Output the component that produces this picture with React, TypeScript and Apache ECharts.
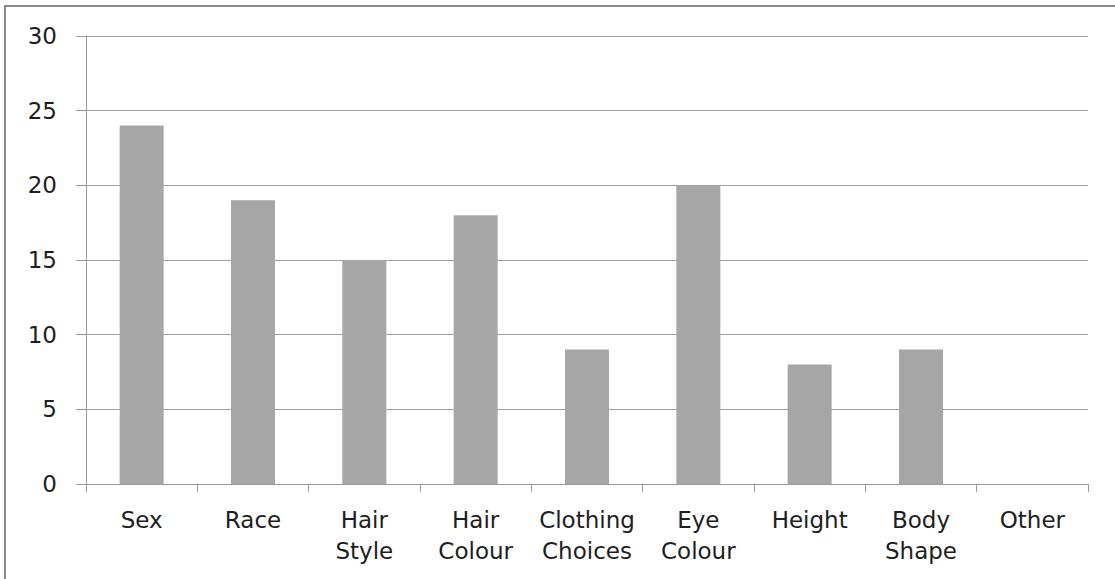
import React, { useEffect, useRef } from "react";
import * as echarts from "echarts";

const categories = [
  "Sex",
  "Race",
  "Hair\nStyle",
  "Hair\nColour",
  "Clothing\nChoices",
  "Eye\nColour",
  "Height",
  "Body\nShape",
  "Other",
];
const values = [24, 19, 15, 18, 9, 20, 8, 9, 0];
const yMin = 0;
const yMax = 30;
const yInterval = 5;

export default function App() {
  const ref = useRef<HTMLDivElement>(null);
  useEffect(() => {
    if (!ref.current) return;
    const chart = echarts.init(ref.current, null, { renderer: "svg" });
    chart.setOption({
      animation: false,
      backgroundColor: "#ffffff",
      textStyle: { fontFamily: "DejaVu Sans" },
      graphic: [
        {
          type: "rect",
          shape: { x: 5, y: 6, width: 1120, height: 600 },
          style: { fill: "none", stroke: "#8a8a8a", lineWidth: 2 },
          silent: true,
        },
      ],
      grid: { left: 86, right: 27, top: 36, bottom: 95 },
      xAxis: {
        type: "category",
        data: categories,
        boundaryGap: true,
        axisLine: { show: true, lineStyle: { color: "#9a9a9a", width: 1 } },
        axisTick: { show: true, length: 8, lineStyle: { color: "#9a9a9a" } },
        axisLabel: {
          color: "#1e1e1e",
          fontSize: 23,
          fontFamily: "DejaVu Sans",
          lineHeight: 31,
          margin: 20,
          interval: 0,
        },
        splitLine: { show: false },
      },
      yAxis: {
        type: "value",
        min: yMin,
        max: yMax,
        interval: yInterval,
        axisLine: { show: true, lineStyle: { color: "#9a9a9a", width: 1 } },
        axisTick: { show: true, length: 10, lineStyle: { color: "#9a9a9a" } },
        axisLabel: {
          color: "#1e1e1e",
          fontSize: 23,
          fontFamily: "DejaVu Sans",
          margin: 29,
        },
        splitLine: { show: true, lineStyle: { color: "#a0a0a0", width: 1 } },
      },
      series: [
        {
          type: "bar",
          data: values,
          barWidth: 44,
          itemStyle: { color: "#a6a6a6" },
        },
      ],
    });
    return () => chart.dispose();
  }, []);
  return (
    <div
      ref={ref}
      style={{ position: "fixed", left: 0, top: 0, width: 1115, height: 579 }}
    />
  );
}
